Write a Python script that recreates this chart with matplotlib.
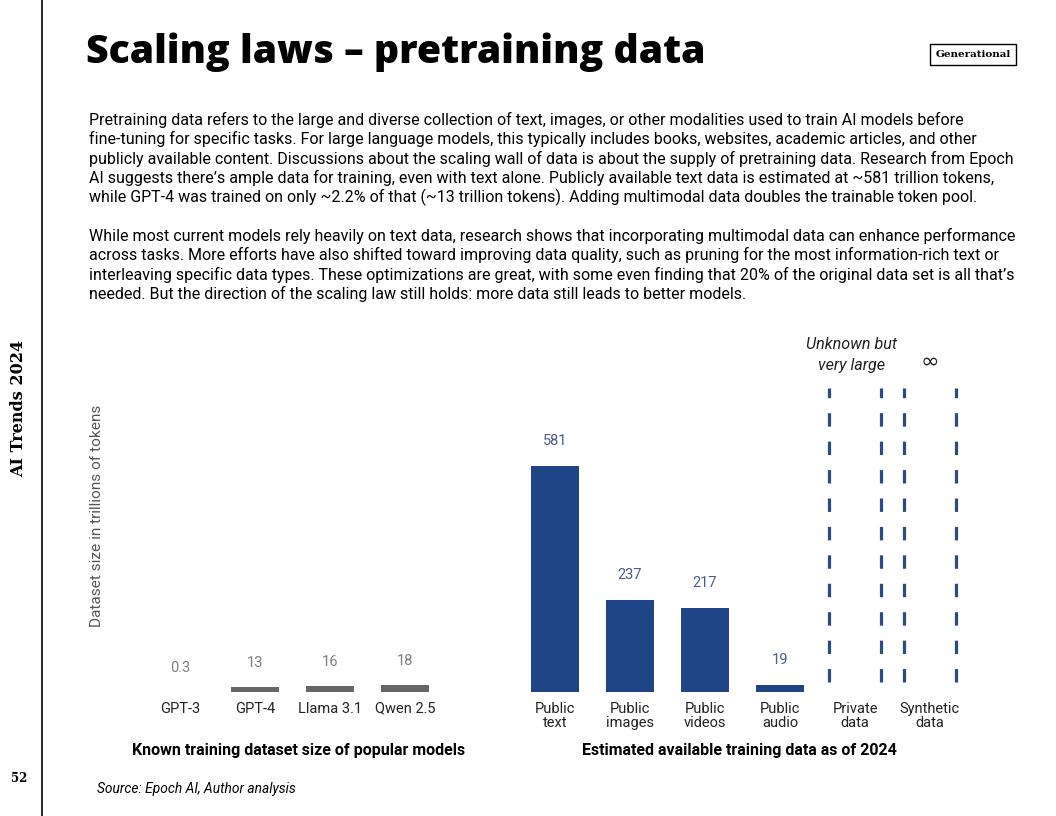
import matplotlib
matplotlib.use("Agg")
import matplotlib.pyplot as plt

# ---- data ----
models = ["GPT-3", "GPT-4", "Llama 3.1", "Qwen 2.5"]
model_tokens = [0.3, 13, 16, 18]
model_labels = ["0.3", "13", "16", "18"]

sources = ["Public\ntext", "Public\nimages", "Public\nvideos", "Public\naudio"]
source_tokens = [581, 237, 217, 19]
source_labels = ["581", "237", "217", "19"]

unbounded = ["Private\ndata", "Synthetic\ndata"]
unbounded_notes = ["Unknown but\nvery large", "∞"]

W, H = 1056, 816
fig = plt.figure(figsize=(W / 100, H / 100), dpi=100)
fig.patch.set_facecolor("white")

def fx(x):
    return x / W

def fy(y):
    return 1 - y / H

# ---- page furniture ----
fig.add_artist(plt.Line2D([fx(42), fx(42)], [0, 1], color="black", lw=1.2))
fig.text(fx(19), fy(408), "AI Trends 2024", rotation=90, ha="center", va="center",
         family="DejaVu Serif", fontweight="bold", fontsize=11.5, color="black")
fig.text(fx(19), fy(778), "52", ha="center", va="center",
         family="DejaVu Serif", fontweight="bold", fontsize=8.5, color="black")

fig.text(fx(86), fy(52), "Scaling laws – pretraining data", ha="left", va="center",
         family="Open Sans", fontweight=800, fontsize=28.3, color="black")
fig.text(fx(973), fy(54.5), "Generational", ha="center", va="center",
         family="DejaVu Serif", fontweight="bold", fontsize=7.5, color="black",
         bbox=dict(boxstyle="square,pad=0.55", fc="white", ec="black", lw=1.0))

para1 = [
    "Pretraining data refers to the large and diverse collection of text, images, or other modalities used to train AI models before",
    "fine-tuning for specific tasks. For large language models, this typically includes books, websites, academic articles, and other",
    "publicly available content. Discussions about the scaling wall of data is about the supply of pretraining data. Research from Epoch",
    "AI suggests there’s ample data for training, even with text alone. Publicly available text data is estimated at ~581 trillion tokens,",
    "while GPT-4 was trained on only ~2.2% of that (~13 trillion tokens). Adding multimodal data doubles the trainable token pool.",
]
para2 = [
    "While most current models rely heavily on text data, research shows that incorporating multimodal data can enhance performance",
    "across tasks. More efforts have also shifted toward improving data quality, such as pruning for the most information-rich text or",
    "interleaving specific data types. These optimizations are great, with some even finding that 20% of the original data set is all that’s",
    "needed. But the direction of the scaling law still holds: more data still leads to better models.",
]
for i, line in enumerate(para1):
    fig.text(fx(89), fy(120 + 19.4 * i), line, ha="left", va="center",
             family="Roboto", fontsize=11.55, color="black")
for i, line in enumerate(para2):
    fig.text(fx(89), fy(236 + 19.4 * i), line, ha="left", va="center",
             family="Roboto", fontsize=11.55, color="black")

# ---- chart ----
px_per_unit = 226 / 581
ymax = 800
x0_px, x1_px = 130, 980
step_px = 75
pos0_px = 180
base_px = 692
ax = fig.add_axes([fx(x0_px), fy(base_px), (x1_px - x0_px) / W, ymax * px_per_unit / H])
ax.set_xlim((x0_px - pos0_px) / step_px, (x1_px - pos0_px) / step_px)
ax.set_ylim(0, ymax)
for s in ax.spines.values():
    s.set_visible(False)
ax.set_yticks([])

left_pos = list(range(len(models)))
right_start = len(models) + 1
right_pos = [right_start + i for i in range(len(sources))]
unb_pos = [right_pos[-1] + 1 + i for i in range(len(unbounded))]

gray = "#666666"
navy = "#1f4587"
bw = 0.64

ax.bar(left_pos, model_tokens, width=bw, color=gray)
ax.bar(right_pos, source_tokens, width=bw, color=navy)

for p, v, t in zip(left_pos, model_tokens, model_labels):
    ax.annotate(t, (p, v), xytext=(0, 17), textcoords="offset points", ha="center",
                va="center", family="Roboto", fontsize=10.5, color="#7f7f7f")
for p, v, t in zip(right_pos, source_tokens, source_labels):
    ax.annotate(t, (p, v), xytext=(0, 18), textcoords="offset points", ha="center",
                va="center", family="Roboto", fontsize=10.5, color="#4a5d8a")

dash_lo = (base_px - 682) / (ymax * px_per_unit)
dash_hi = (base_px - 388) / (ymax * px_per_unit)
for p in unb_pos:
    for off in (-0.35, 0.35):
        ax.axvline(p + off, ymin=dash_lo, ymax=dash_hi, color="#2b4a86", lw=2.3,
                   linestyle=(0, (4.2, 4.7)))

ax.text(unb_pos[0] - 0.05, (base_px - 355) / px_per_unit, unbounded_notes[0], ha="center",
        va="center", family="Roboto", style="italic", fontsize=11.6, color="#222222",
        linespacing=1.5)
ax.text(unb_pos[1], (base_px - 362) / px_per_unit, unbounded_notes[1], ha="center",
        va="center", family="DejaVu Sans", style="italic", fontsize=16, color="#222222")

ax.set_xticks(left_pos + right_pos + unb_pos)
ax.set_xticklabels(models + sources + unbounded, family="Roboto", fontsize=10.5,
                   color="#222222", linespacing=1.0)
ax.tick_params(axis="x", length=0, pad=7)

fig.text(fx(97), fy(516), "Dataset size in trillions of tokens", rotation=90,
         ha="center", va="center", family="Roboto", fontsize=11.1, color="#555555")

fig.text(fx(299), fy(750), "Known training dataset size of popular models", ha="center",
         va="center", family="Roboto", fontweight="bold", fontsize=11.5, color="black")
fig.text(fx(739), fy(750), "Estimated available training data as of 2024", ha="center",
         va="center", family="Roboto", fontweight="bold", fontsize=11.5, color="black")
fig.text(fx(97), fy(789), "Source: Epoch AI, Author analysis", ha="left", va="center",
         family="Roboto", style="italic", fontsize=9.9, color="black")

fig.savefig("out.png", dpi=100)
